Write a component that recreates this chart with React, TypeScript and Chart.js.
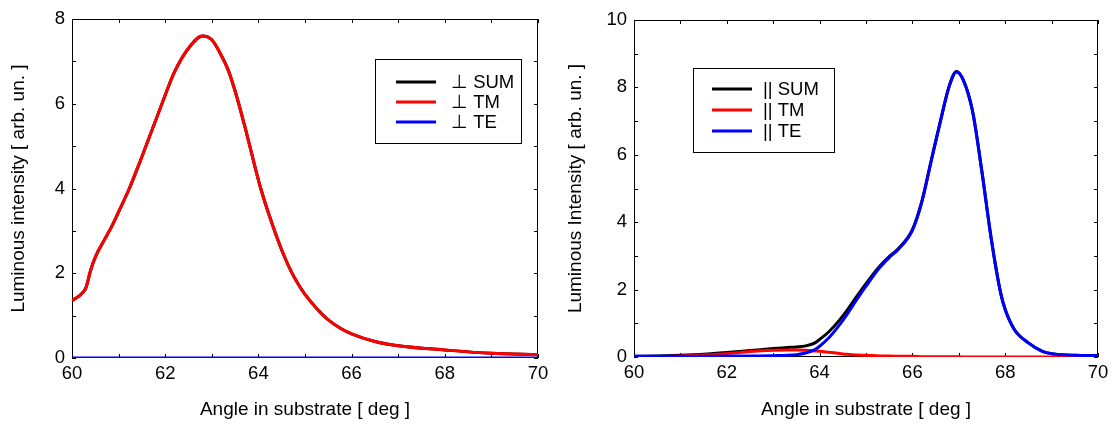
import React, { useEffect, useRef } from "react";
import { Chart, registerables } from "chart.js";

Chart.register(...registerables);

// ---------- data ----------
const ANGLES_PERP = [60, 60.1, 60.2, 60.3, 60.4, 60.5, 60.7, 60.85, 61, 61.23, 61.5, 61.93, 62.2, 62.5, 62.8, 63, 63.2, 63.35, 63.5, 63.7, 64.05, 64.3, 64.5, 64.7, 64.85, 65, 65.25, 65.5, 65.75, 66, 66.5, 67, 68, 69, 70];
const PERP_SUM = [1.36, 1.42, 1.51, 1.66, 2.07, 2.38, 2.8, 3.1, 3.45, 4.0, 4.75, 6.0, 6.75, 7.31, 7.6, 7.51, 7.15, 6.8, 6.3, 5.5, 4.0, 3.15, 2.55, 2.05, 1.75, 1.5, 1.17, 0.9, 0.71, 0.57, 0.39, 0.29, 0.19, 0.11, 0.08];
const PERP_TM = [1.36, 1.42, 1.51, 1.66, 2.07, 2.38, 2.8, 3.1, 3.45, 4.0, 4.75, 6.0, 6.75, 7.31, 7.6, 7.51, 7.15, 6.8, 6.3, 5.5, 4.0, 3.15, 2.55, 2.05, 1.75, 1.5, 1.17, 0.9, 0.71, 0.57, 0.39, 0.29, 0.19, 0.11, 0.08];
const PERP_TE = [0, 0, 0, 0, 0, 0, 0, 0, 0, 0, 0, 0, 0, 0, 0, 0, 0, 0, 0, 0, 0, 0, 0, 0, 0, 0, 0, 0, 0, 0, 0, 0, 0, 0, 0];

const ANGLES_PAR = [60, 60.5, 61, 61.5, 62, 62.5, 63, 63.3, 63.5, 63.7, 63.9, 64, 64.2, 64.4, 64.6, 64.8, 65, 65.3, 65.5, 65.7, 66, 66.2, 66.4, 66.6, 66.8, 66.95, 67.1, 67.3, 67.5, 67.7, 67.9, 68, 68.2, 68.5, 68.8, 69, 69.5, 70];
const PAR_SUM = [0.02, 0.03, 0.05, 0.08, 0.13, 0.19, 0.25, 0.28, 0.3, 0.33, 0.42, 0.52, 0.75, 1.05, 1.4, 1.8, 2.18, 2.7, 2.98, 3.22, 3.78, 4.6, 5.8, 6.98, 8.07, 8.47, 8.21, 7.27, 5.48, 3.5, 1.91, 1.41, 0.81, 0.42, 0.17, 0.1, 0.05, 0.04];
const PAR_TM = [0.0, 0.01, 0.03, 0.06, 0.1, 0.16, 0.2, 0.21, 0.21, 0.2, 0.18, 0.17, 0.14, 0.11, 0.08, 0.06, 0.05, 0.03, 0.03, 0.02, 0.02, 0.01, 0.01, 0.01, 0.01, 0.01, 0.0, 0.0, 0.0, 0.0, 0.0, 0.0, 0.0, 0.0, 0.0, 0.0, 0.0, 0.0];
const PAR_TE = [0.02, 0.02, 0.02, 0.02, 0.03, 0.03, 0.04, 0.05, 0.07, 0.12, 0.22, 0.32, 0.57, 0.9, 1.28, 1.7, 2.1, 2.66, 2.95, 3.2, 3.76, 4.58, 5.78, 6.97, 8.06, 8.46, 8.21, 7.27, 5.48, 3.5, 1.91, 1.41, 0.81, 0.42, 0.17, 0.1, 0.05, 0.04];

const LABELS_PERP = ["\u22A5 SUM", "\u22A5 TM", "\u22A5 TE"];
const LABELS_PAR = ["|| SUM", "|| TM", "|| TE"];
const X_TITLE = "Angle in substrate [ deg ]";
const Y_TITLE_PERP = "Luminous intensity [ arb. un. ]";
const Y_TITLE_PAR = "Luminous Intensity [ arb. un. ]";
const X_RANGE = [60, 70];
const Y_MAX_PERP = 8;
const Y_MAX_PAR = 10;
const TICK_STEP = 2;

const FONT = "'Liberation Sans', Arial, Helvetica, sans-serif";
const COLORS = ["#000000", "#ff0000", "#0000ff"];

// ---------- plugins ----------
const framePlugin = {
  id: "frame",
  beforeDatasetsDraw(chart: any) {
    const { ctx, chartArea, scales } = chart;
    const { left, right, top, bottom } = chartArea;
    ctx.save();
    ctx.fillStyle = "#000";
    ctx.fillRect(left, top, right - left, 1);
    ctx.fillRect(left, bottom - 1, right - left, 1);
    ctx.fillRect(left, top, 1, bottom - top);
    ctx.fillRect(right - 1, top, 1, bottom - top);
    const tl = 4;
    const xs = scales.x;
    for (let v = xs.min; v <= xs.max + 1e-9; v += 1) {
      const px = Math.round(xs.getPixelForValue(v));
      ctx.fillRect(px, bottom - tl, 1, tl);
      ctx.fillRect(px, top, 1, tl);
    }
    const ys = scales.y;
    for (let v = ys.min; v <= ys.max + 1e-9; v += 1) {
      const py = Math.round(ys.getPixelForValue(v));
      ctx.fillRect(left, py, tl, 1);
      ctx.fillRect(right - tl, py, tl, 1);
    }
    ctx.restore();
  },
};

const boxLegendPlugin = {
  id: "boxLegend",
  afterDraw(chart: any, _args: any, opts: any) {
    const { ctx, chartArea } = chart;
    const x0 = chartArea.left + opts.offsetX;
    const y0 = chartArea.top + opts.offsetY;
    ctx.save();
    ctx.fillStyle = "#fff";
    ctx.fillRect(x0, y0, opts.width, opts.height);
    ctx.strokeStyle = "#000";
    ctx.lineWidth = 1;
    ctx.strokeRect(x0 + 0.5, y0 + 0.5, opts.width, opts.height);
    ctx.font = `${opts.fontSize}px ${FONT}`;
    ctx.textBaseline = "middle";
    ctx.textAlign = "left";
    chart.data.datasets.forEach((ds: any, i: number) => {
      const y = y0 + opts.firstRow + i * opts.rowGap;
      ctx.strokeStyle = ds.borderColor;
      ctx.lineWidth = 3;
      ctx.beginPath();
      ctx.moveTo(x0 + opts.lineStart, y);
      ctx.lineTo(x0 + opts.lineEnd, y);
      ctx.stroke();
      ctx.fillStyle = "#000";
      ctx.fillText(ds.label, x0 + opts.textStart, y + 1);
    });
    ctx.restore();
  },
};

function makeConfig(
  xs: number[],
  series: number[][],
  labels: string[],
  yMax: number,
  yTitle: string,
  layout: { plotLeft: number; padRight: number; padTop: number; xAxisHeight: number },
  legend: any
): any {
  const datasets = series.map((vals, i) => ({
    label: labels[i],
    data: xs.map((x, j) => ({ x, y: vals[j] })),
    borderColor: COLORS[i],
    backgroundColor: COLORS[i],
    borderWidth: 3,
    pointRadius: 0,
    fill: false,
    cubicInterpolationMode: "monotone",
    order: 3 - i,
  }));
  return {
    type: "line",
    data: { datasets },
    plugins: [framePlugin, boxLegendPlugin],
    options: {
      responsive: false,
      animation: false,
      devicePixelRatio: 1,
      layout: { padding: { left: 0, right: layout.padRight, top: layout.padTop, bottom: 0 } },
      plugins: {
        legend: { display: false },
        tooltip: { enabled: false },
        boxLegend: legend,
      },
      scales: {
        x: {
          type: "linear",
          min: X_RANGE[0],
          max: X_RANGE[1],
          ticks: { stepSize: TICK_STEP, color: "#000", font: { family: FONT, size: 18.5 }, padding: 5, maxRotation: 0 },
          grid: { display: false, drawTicks: false },
          border: { display: false },
          title: { display: true, text: X_TITLE, color: "#000", font: { family: FONT, size: 19 }, padding: { top: 0, bottom: 4 } },
          afterFit: (s: any) => {
            s.height = layout.xAxisHeight;
          },
        },
        y: {
          type: "linear",
          min: 0,
          max: yMax,
          ticks: { stepSize: TICK_STEP, color: "#000", font: { family: FONT, size: 18.5 }, padding: 7 },
          grid: { display: false, drawTicks: false },
          border: { display: false },
          title: { display: true, text: yTitle, color: "#000", font: { family: FONT, size: 19 }, padding: { top: 7, bottom: 0 } },
          afterFit: (s: any) => {
            s.width = layout.plotLeft;
          },
        },
      },
    },
  };
}

function ChartCanvas({ config, left }: { config: any; left: number }) {
  const ref = useRef<HTMLCanvasElement | null>(null);
  useEffect(() => {
    if (!ref.current) return;
    const chart = new Chart(ref.current, config);
    return () => chart.destroy();
  }, [config]);
  return (
    <canvas
      ref={ref}
      width={557}
      height={425}
      style={{ position: "absolute", left, top: 0, width: 557, height: 425, display: "block" }}
    />
  );
}

const leftConfig = makeConfig(
  ANGLES_PERP,
  [PERP_SUM, PERP_TM, PERP_TE],
  LABELS_PERP,
  Y_MAX_PERP,
  Y_TITLE_PERP,
  { plotLeft: 72, padRight: 19, padTop: 19, xAxisHeight: 67 },
  { offsetX: 303, offsetY: 40, width: 146, height: 84, lineStart: 21, lineEnd: 61, textStart: 76, firstRow: 23, rowGap: 20, fontSize: 18.5 }
);

const rightConfig = makeConfig(
  ANGLES_PAR,
  [PAR_SUM, PAR_TM, PAR_TE],
  LABELS_PAR,
  Y_MAX_PAR,
  Y_TITLE_PAR,
  { plotLeft: 77, padRight: 16, padTop: 20, xAxisHeight: 68 },
  { offsetX: 59, offsetY: 48, width: 141, height: 84, lineStart: 19, lineEnd: 59, textStart: 70, firstRow: 21, rowGap: 21, fontSize: 18.5 }
);

export default function App() {
  return (
    <div style={{ position: "absolute", left: 0, top: 0, width: 1114, height: 425, background: "#fff", overflow: "hidden" }}>
      <ChartCanvas config={leftConfig} left={0} />
      <ChartCanvas config={rightConfig} left={557} />
    </div>
  );
}
